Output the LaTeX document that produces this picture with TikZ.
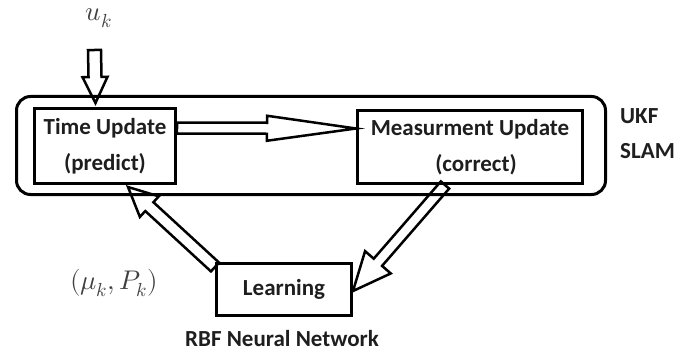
\documentclass[tikz,border=0pt]{standalone}
\usepackage{fontspec}
\setmainfont{Carlito}
\usepackage{unicode-math}
\usetikzlibrary{calc}
\definecolor{ink}{HTML}{1E1E1E}
\tikzset{
  box/.style={draw=black, line width=3pt, rectangle, inner sep=0pt, align=center,
    font=\fontsize{23}{36}\selectfont\bfseries, text=ink},
  lbl/.style={font=\fontsize{23}{35}\selectfont\bfseries, text=ink, inner sep=0pt},
  mlbl/.style={font=\fontsize{27}{30}\selectfont, text=ink!85, inner sep=0pt},
  barrow/.style={draw=black, line width=2.5pt, line join=miter},
}
\newcommand\blockarrow[5]{% tail, tip, shaft half width, head half width, head length
  \coordinate (ba-h) at ($(#2)!#5!(#1)$);
  \draw[barrow] ($(#1)!#3!90:(#2)$) -- ($(ba-h)!#3!90:(#2)$) -- ($(ba-h)!#4!90:(#2)$)
    -- (#2) -- ($(ba-h)!#4!-90:(#2)$) -- ($(ba-h)!#3!-90:(#2)$) -- ($(#1)!#3!-90:(#2)$) -- cycle;
}
\begin{document}
\begin{tikzpicture}[x=1pt, y=-1pt]
\useasboundingbox (0,0) rectangle (686,353);
% outer UKF SLAM frame
\draw[line width=3pt, rounded corners=14pt] (16.5,96.5) rectangle (605.5,194.5);
% boxes
\node[box, minimum width=141pt, minimum height=75pt] (tu) at (105,146) {Time Update\\(predict)};
\node[box, minimum width=225pt, minimum height=73pt] (mu) at (470,147) {Measurment Update\\\hspace*{12pt}(correct)};
\node[box, minimum width=135pt, minimum height=52pt] (learn) at (284,289.5) {Learning};
% labels
\node[mlbl, anchor=base] (uk) at (99,21) {$u_k$};
\node[mlbl] (mp) at (114,283) {$(\mu_k,P_k)$};
\node[lbl, align=left, anchor=west] (ukf) at (620,134) {UKF\\SLAM};
\node[lbl] (rbf) at (282,339) {RBF Neural Network};
% arrow end points
\coordinate (dtail) at (94.5,50);
\coordinate (dtip) at (95.5,103);
\coordinate (htail) at (tu.east |- 0,128);
\coordinate (htip) at (mu.west |- 0,128.5);
\coordinate (atail) at (learn.west |- 0,267);
\coordinate (atip) at (128,187);
\coordinate (btail) at (445,185);
\coordinate (btip) at (learn.east |- 0,291);
% block arrows
\blockarrow{dtail}{dtip}{6.5pt}{12.5pt}{26pt}
\blockarrow{htail}{htip}{5.5pt}{12.5pt}{89pt}
\blockarrow{atail}{atip}{6pt}{14pt}{29pt}
\blockarrow{btail}{btip}{5.5pt}{17pt}{38pt}
\end{tikzpicture}
\end{document}
